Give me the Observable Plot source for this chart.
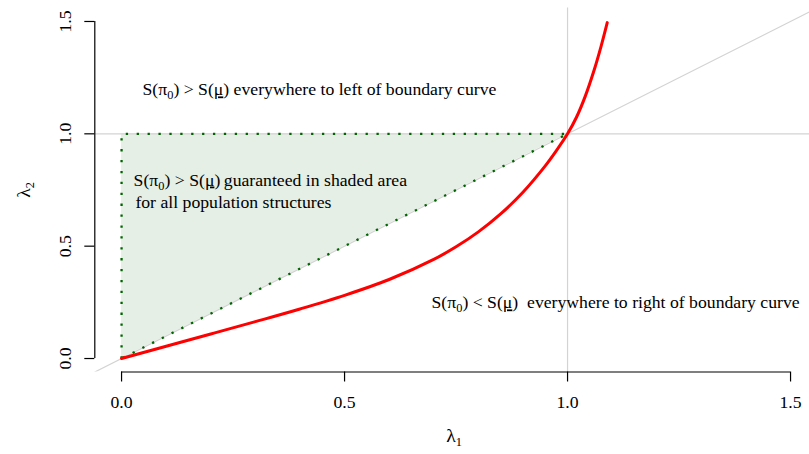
<!DOCTYPE html>
<html><head><meta charset="utf-8">
<script src="https://cdn.jsdelivr.net/npm/d3@7"></script>
<script src="https://cdn.jsdelivr.net/npm/@observablehq/plot@0.6"></script>
<style>body{margin:0;background:#fff} text{white-space:pre}</style>
</head><body><div id="chart"></div>
<script>
// Boundary curve
const boundaryX = [0, 0.1, 0.2, 0.3, 0.4, 0.5, 0.6, 0.7, 0.75, 0.8, 0.85, 0.9, 0.95, 0.975, 1.0, 1.02, 1.04, 1.06, 1.075, 1.089];
const boundaryY = [0, 0.0545, 0.109, 0.164, 0.2204, 0.2813, 0.3517, 0.4411, 0.497, 0.5635, 0.6435, 0.7401, 0.8574, 0.9253, 1.0, 1.0737, 1.169, 1.2863, 1.3885, 1.495];
// Shaded triangle between y = x and y = 1 for x in [0, 1]
const shadeX = [0, 1];
const edgeX = [0, 0, 1, 0];
const edgeY = [0, 1, 1, 0];
// Reference lines
const refH = [1];
const refV = [1];
const diagX = [-0.1, 1.7];
// Axes
const xTicks = [0, 0.5, 1.0, 1.5];
const yTicks = [0, 0.5, 1.0, 1.5];
const xLabel = "λ_{1}";
const yLabel = "λ_{2}";
// Annotations
const annotText = [
  "S(π_{0}) > S(__μ__) everywhere to left of boundary curve",
  "S(π_{0}) > S(__μ__)\u2009guaranteed in shaded area",
  "for all population structures",
  "S(π_{0}) < S(__μ__)\u00a0 everywhere to right of boundary curve"
];
const annotX = [0.047, 0.027, 0.031, 0.695];
const annotY = [1.171, 0.770, 0.668, 0.223];

const FS = 17.7;
const fmt = d3.format(".1f");
const grey = "#d3d3d3";
const annots = annotText.map((t, i) => ({t, x: annotX[i], y: annotY[i]}));

const plot = Plot.plot({
  width: 809, height: 454,
  marginLeft: 94.3, marginRight: 0, marginTop: 7.5, marginBottom: 82.5,
  x: {domain: [-0.06, 1.5425], axis: null},
  y: {domain: [-0.06, 1.56], axis: null},
  style: {fontFamily: "'Liberation Serif', 'Times New Roman', serif", fontSize: FS + "px", background: "white", color: "black"},
  marks: [
    Plot.areaY(shadeX, {x: d => d, y1: d => d, y2: 1, fill: "darkgreen", fillOpacity: 0.1}),
    Plot.ruleY(refH, {stroke: grey, strokeWidth: 1.2}),
    Plot.ruleX(refV, {stroke: grey, strokeWidth: 1.2}),
    Plot.line(diagX, {x: d => d, y: d => d, stroke: grey, strokeWidth: 1.2, clip: true}),
    Plot.line(edgeX, {x: d => d, y: (d, i) => edgeY[i], stroke: "darkgreen", strokeWidth: 2.3, strokeDasharray: "2.3,8.6", strokeLinecap: "butt"}),
    Plot.line(boundaryX, {x: d => d, y: (d, i) => boundaryY[i], stroke: "red", strokeWidth: 3, curve: "catmull-rom"}),
    // axis lines
    Plot.ruleY([-0.06], {x1: xTicks[0], x2: xTicks[xTicks.length - 1], stroke: "black", strokeWidth: 1.2}),
    Plot.ruleX([-0.06], {y1: yTicks[0], y2: yTicks[yTicks.length - 1], stroke: "black", strokeWidth: 1.2}),
    Plot.axisX({ticks: xTicks, tickSize: 10, text: null, label: null, strokeWidth: 1.2}),
    Plot.axisY({ticks: yTicks, tickSize: 10, text: null, label: null, strokeWidth: 1.2}),
    Plot.text(xTicks, {x: d => d, text: d => fmt(d), frameAnchor: "bottom", dy: 36.2, lineAnchor: "bottom", fontSize: FS}),
    Plot.text(yTicks, {y: d => d, text: d => fmt(d), frameAnchor: "left", dx: -23.6, rotate: -90, lineAnchor: "bottom", textAnchor: "middle", fontSize: FS}),
    Plot.text([xLabel], {frameAnchor: "bottom", dx: 2, dy: 69.5, lineAnchor: "bottom", fontSize: FS + 2}),
    Plot.text([yLabel], {frameAnchor: "left", dx: -65.3, rotate: -90, lineAnchor: "bottom", textAnchor: "middle", fontSize: FS + 2}),
    Plot.text(annots, {x: "x", y: "y", text: "t", textAnchor: "start", lineAnchor: "bottom", fontSize: FS})
  ]
});

// turn the little markup into real subscripts / underlines
d3.select(plot).selectAll("text").each(function () {
  const s = this.textContent;
  if (!/_\{|__/.test(s)) return;
  const el = d3.select(this);
  el.text(null);
  const parts = s.split(/(_\{[^}]*\}|__[^_]+__)/).filter(p => p !== "");
  let shifted = false;
  for (const p of parts) {
    let t;
    if (p.startsWith("_{")) {
      t = el.append("tspan").attr("dy", "4").attr("font-size", (FS * 0.7) + "px").text(p.slice(2, -1));
      shifted = true;
      continue;
    } else if (p.startsWith("__")) {
      t = el.append("tspan").attr("text-decoration", "underline").text(p.slice(2, -2));
    } else {
      t = el.append("tspan").text(p);
    }
    if (shifted) { t.attr("dy", "-4"); shifted = false; }
  }
});

document.getElementById("chart").appendChild(plot);
</script>
</body></html>
